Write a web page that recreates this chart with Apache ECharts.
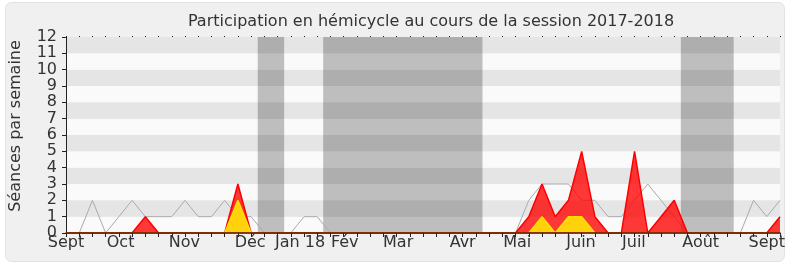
<!DOCTYPE html>
<html>
<head>
<meta charset="utf-8">
<script src="https://cdn.jsdelivr.net/npm/echarts@6/dist/echarts.min.js"></script>
<style>
html,body{margin:0;padding:0;background:#fff;}
#c{width:790px;height:267px;}
</style>
</head>
<body>
<div id="c"></div>
<script>
// Weekly index 0..54 (Sept 2017 -> Sept 2018)
var weeks = [];
for (var k = 0; k <= 54; k++) weeks.push(k);

var medianValues = [0,0,2,0,1,2,1,1,1,2,1,1,2,1,1,0,0,0,1,1,0,0,0,0,0,0,0,0,0,0,0,0,0,0,0,2,3,3,3,2,2,1,1,2,3,2,1,0,0,0,0,0,2,1,2];
var presenceValues = [0,0,0,0,0,0,1,0,0,0,0,0,0,3,0,0,0,0,0,0,0,0,0,0,0,0,0,0,0,0,0,0,0,0,0,1,3,1,2,5,1,0,0,5,0,1,2,0,0,0,0,0,0,0,1];
var interventionValues = [0,0,0,0,0,0,0,0,0,0,0,0,0,2,0,0,0,0,0,0,0,0,0,0,0,0,0,0,0,0,0,0,0,0,0,0,1,0,1,1,0,0,0,0,0,0,0,0,0,0,0,0,0,0,0];

var monthLabels = ['Sept','Oct','Nov','Déc','Jan 18','Fév','Mar','Avr','Mai','Juin','Juil','Août','Sept'];
var monthPositions = [0, 4.13, 8.96, 13.93, 17.7, 21.08, 25.12, 30, 34.13, 38.95, 42.95, 48, 53];

var vacationStarts = [14.5, 19.45, 46.5];
var vacationEnds = [16.5, 31.5, 50.5];

var yTicks = [0,1,2,3,4,5,6,7,8,9,10,11,12];

function pairs(vals){ return weeks.map(function(w,i){ return [w, vals[i]]; }); }

var FONT = 'DejaVu Sans';
var chart = echarts.init(document.getElementById('c'), null, {renderer:'canvas'});
chart.setOption({
  animation: false,
  backgroundColor: 'transparent',
  textStyle: {fontFamily: FONT},
  graphic: [{
    type: 'rect', z: -10, silent: true,
    shape: {x: 5.5, y: 2.5, width: 779, height: 259, r: 6},
    style: {fill: '#f0f0f0', stroke: '#e2e2e2', lineWidth: 1}
  }],
  title: {
    text: 'Participation en hémicycle au cours de la session 2017-2018',
    left: 426, top: 9, textAlign: 'center',
    textStyle: {fontFamily: FONT, fontSize: 16, fontWeight: 'normal', color: '#333'}
  },
  grid: {left: 62, right: 10, top: 37, bottom: 34, containLabel: false},
  xAxis: [{
    type: 'value', min: 0, max: 54, z: 10,
    axisLine: {show: true, lineStyle: {color: '#5a0000', width: 1.5}},
    axisTick: {show: true, customValues: weeks, length: 4, inside: false, lineStyle: {color: '#222'}},
    axisLabel: {
      show: true, customValues: monthPositions, margin: 2, hideOverlap: false,
      fontFamily: FONT, fontSize: 16, color: '#333',
      formatter: function(v){
        for (var j = 0; j < monthPositions.length; j++) if (Math.abs(monthPositions[j]-v) < 0.01) return monthLabels[j];
        return '';
      }
    },
    splitLine: {show: false}
  },{
    type: 'value', min: 0, max: 54, position: 'top',
    axisLine: {show: false},
    axisTick: {show: true, customValues: weeks, length: 1, lineStyle: {color: '#222'}},
    axisLabel: {show: false},
    splitLine: {show: false}
  }],
  yAxis: {
    type: 'value', min: 0, max: 12, interval: 1,
    name: 'Séances par semaine', nameLocation: 'middle', nameGap: 42, nameRotate: 90,
    nameTextStyle: {fontFamily: FONT, fontSize: 16, color: '#333', padding: [0, 0, 0, 18]},
    axisLine: {show: true, lineStyle: {color: '#222'}},
    axisTick: {show: true, length: 4, lineStyle: {color: '#222'}},
    axisLabel: {fontFamily: FONT, fontSize: 16, color: '#333', margin: 9,
      formatter: function(v){ return yTicks.indexOf(v) >= 0 ? String(v) : ''; }},
    splitLine: {show: false},
    splitArea: {show: true, areaStyle: {color: ['#fafafa', '#e5e5e5']}}
  },
  series: [{
    type: 'line', name: 'median', data: pairs(medianValues), symbol: 'none', z: 2,
    lineStyle: {color: '#aaaaaa', width: 1},
    markArea: {
      silent: true,
      itemStyle: {color: 'rgba(0,0,0,0.24)'},
      data: vacationStarts.map(function(s,i){ return [{xAxis: s}, {xAxis: vacationEnds[i]}]; })
    }
  },{
    type: 'line', name: 'presence', data: pairs(presenceValues), symbol: 'none', z: 3,
    lineStyle: {color: '#ff0000', width: 1.5},
    areaStyle: {color: 'rgba(255,0,0,0.78)', opacity: 1}
  },{
    type: 'line', name: 'interventions', data: pairs(interventionValues), symbol: 'none', z: 4,
    lineStyle: {color: '#ffe000', width: 1.5},
    areaStyle: {color: '#ffd20c', opacity: 1}
  }]
});
</script>
</body>
</html>
